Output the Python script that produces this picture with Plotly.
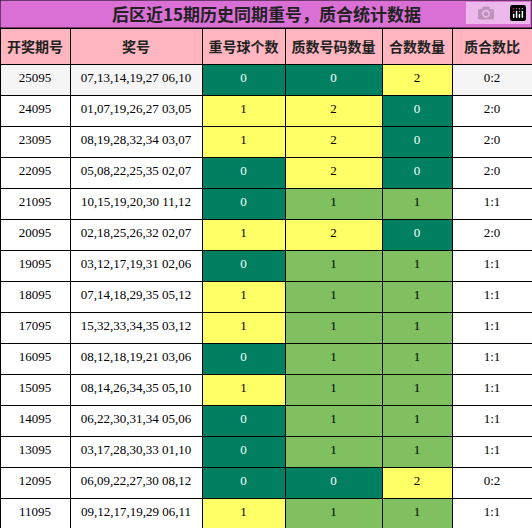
import plotly.graph_objects as go

periods = ["25095", "24095", "23095", "22095", "21095", "20095", "19095", "18095",
           "17095", "16095", "15095", "14095", "13095", "12095", "11095"]
numbers = ["07,13,14,19,27 06,10", "01,07,19,26,27 03,05", "08,19,28,32,34 03,07",
           "05,08,22,25,35 02,07", "10,15,19,20,30 11,12", "02,18,25,26,32 02,07",
           "03,12,17,19,31 02,06", "07,14,18,29,35 05,12", "15,32,33,34,35 03,12",
           "08,12,18,19,21 03,06", "08,14,26,34,35 05,10", "06,22,30,31,34 05,06",
           "03,17,28,30,33 01,10", "06,09,22,27,30 08,12", "09,12,17,19,29 06,11"]
repeat = [0, 1, 1, 0, 0, 1, 0, 1, 1, 0, 1, 0, 0, 0, 1]
prime = [0, 2, 2, 2, 1, 2, 1, 1, 1, 1, 1, 1, 1, 0, 1]
composite = [2, 0, 0, 0, 1, 0, 1, 1, 1, 1, 1, 1, 1, 2, 1]
ratio = ["0:2", "2:0", "2:0", "2:0", "1:1", "2:0", "1:1", "1:1", "1:1", "1:1",
         "1:1", "1:1", "1:1", "0:2", "1:1"]
headers = ["开奖期号", "奖号", "重号球个数", "质数号码数量", "合数数量", "质合数比"]

DARK, YEL, LIGHT = "#008060", "#FFFF66", "#80C060"

def repeat_color(v):
    return DARK if v == 0 else YEL

def count_color(v):
    return {0: DARK, 1: LIGHT, 2: YEL}[v]

plain = ["#F5F5F5"] + ["white"] * (len(periods) - 1)
fills = [plain, plain,
         [repeat_color(v) for v in repeat],
         [count_color(v) for v in prime],
         [count_color(v) for v in composite],
         plain]
fcols = [["black"] * 15, ["black"] * 15,
         ["white" if c == DARK else "black" for c in fills[2]],
         ["white" if c == DARK else "black" for c in fills[3]],
         ["white" if c == DARK else "black" for c in fills[4]],
         ["black"] * 15]

# keep the draw numbers on one line
numbers_nb = [n.replace(" ", "\u00a0") for n in numbers]

fig = go.Figure(go.Table(
    columnwidth=[70, 132, 83, 97, 70, 80],
    domain=dict(x=[0, 1], y=[0, 1 - 28 / 528]),
    header=dict(values=[f"<b>{h}</b>" for h in headers], fill_color="#FFB6C1",
                line=dict(color="black", width=1), align="center", height=34,
                font=dict(family="Noto Sans CJK SC", size=14, color="#222")),
    cells=dict(values=[periods, numbers_nb, repeat, prime, composite, ratio],
               fill_color=fills, line=dict(color="black", width=1),
               align="center", height=31,
               font=dict(family="Liberation Serif", size=13, color=fcols)),
))
fig.add_shape(type="rect", xref="paper", yref="paper", x0=0, x1=1,
              y0=1 - 28 / 528, y1=1, fillcolor="#DA70D6",
              line=dict(color="black", width=1))
fig.add_annotation(text="<b>后区近15期历史同期重号，质合统计数据</b>", xref="paper",
                   yref="paper", x=0.5, y=1 - 14 / 528, yanchor="middle",
                   showarrow=False,
                   font=dict(family="Noto Sans CJK SC", size=17, color="#222"))
fig.update_layout(width=532, height=528, margin=dict(l=0, r=0, t=0, b=0),
                  paper_bgcolor="white")
fig.write_html("out.html", post_script="document.body.style.margin='0';")
